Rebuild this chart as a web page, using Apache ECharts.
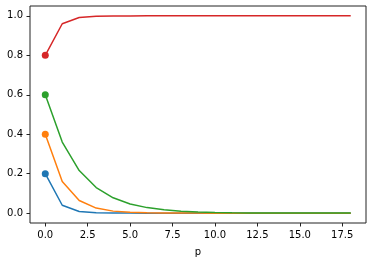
<!DOCTYPE html>
<html>
<head>
<meta charset="utf-8">
<script src="https://cdn.jsdelivr.net/npm/echarts@6/dist/echarts.min.js"></script>
<style>html,body{margin:0;padding:0;background:#fff;}#c{width:372px;height:262px;}</style>
</head>
<body>
<div id="c"></div>
<script>
var pValues = [0,1,2,3,4,5,6,7,8,9,10,11,12,13,14,15,16,17,18];
var blueValues = [0.2,0.04,0.008,0.0016,0.0003,0.0001,0,0,0,0,0,0,0,0,0,0,0,0,0];
var orangeValues = [0.4,0.16,0.064,0.0256,0.0102,0.0041,0.0016,0.0007,0.0003,0.0001,0,0,0,0,0,0,0,0,0];
var greenValues = [0.6,0.36,0.216,0.1296,0.0778,0.0467,0.028,0.0168,0.0101,0.006,0.0036,0.0022,0.0013,0.0008,0.0005,0.0003,0.0002,0.0001,0.0001];
var redValues = [0.8,0.96,0.992,0.998,0.9997,0.9999,1,1,1,1,1,1,1,1,1,1,1,1,1];
var xTicks = [0,2.5,5,7.5,10,12.5,15,17.5];
var yTicks = [0,0.2,0.4,0.6,0.8,1.0];
var colors = ['#1f77b4','#ff7f0e','#2ca02c','#d62728'];
var allSeries = [blueValues, orangeValues, greenValues, redValues];

var series = [];
allSeries.forEach(function(vals, i){
  series.push({
    type:'line',
    data: pValues.map(function(p,j){return [p, vals[j]];}),
    showSymbol:false,
    symbol:'none',
    lineStyle:{color:colors[i], width:1.5},
    itemStyle:{color:colors[i]},
    z:2+i,
    silent:true,
    animation:false
  });
  series.push({
    type:'scatter',
    data:[[pValues[0], vals[0]]],
    symbol:'circle',
    symbolSize:7,
    itemStyle:{color:colors[i], opacity:1},
    z:2+i,
    silent:true,
    animation:false
  });
});

var chart = echarts.init(document.getElementById('c'), null, {renderer:'canvas'});
var txt = {color:'#000', fontFamily:'DejaVu Sans', fontSize:10};
chart.setOption({
  backgroundColor:'#fff',
  animation:false,
  grid:{left:30, right:6, top:6, bottom:39, show:true, borderColor:'#222', borderWidth:1, backgroundColor:'transparent'},
  xAxis:{
    type:'value', min:-0.9, max:18.9,
    name:'p', nameLocation:'middle', nameGap:24,
    nameTextStyle:txt,
    axisLine:{show:false, onZero:false},
    axisTick:{show:true, length:3.5, lineStyle:{color:'#222', width:1}, customValues:xTicks},
    axisLabel:Object.assign({margin:7, customValues:xTicks, formatter:function(v){return v.toFixed(1);}}, txt),
    splitLine:{show:false}
  },
  yAxis:{
    type:'value', min:-0.05, max:1.05,
    axisLine:{show:false, onZero:false},
    axisTick:{show:true, length:3.5, lineStyle:{color:'#222', width:1}, customValues:yTicks},
    axisLabel:Object.assign({margin:7, customValues:yTicks, formatter:function(v){return v.toFixed(1);}}, txt),
    splitLine:{show:false}
  },
  series:series
});
</script>
</body>
</html>
